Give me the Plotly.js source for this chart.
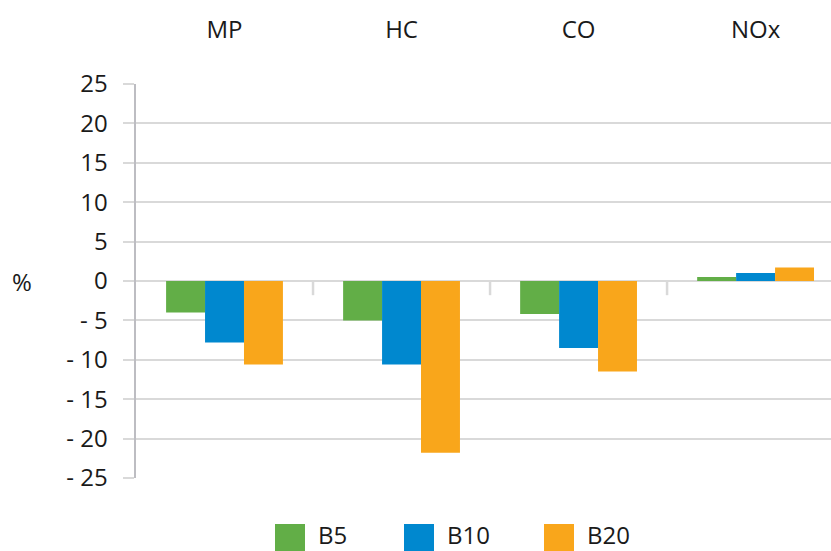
<!DOCTYPE html>
<html>
<head>
<meta charset="utf-8">
<script src="https://cdn.plot.ly/plotly-3.0.1.min.js"></script>
<style>html,body{margin:0;padding:0;background:#fff;overflow:hidden;}</style>
</head>
<body>
<div id="chart" style="width:831px;height:551px;"></div>
<script>
var categories = ["MP", "HC", "CO", "NOx"];
var seriesNames = ["B5", "B10", "B20"];
var b5 = [-4.0, -5.0, -4.2, 0.5];
var b10 = [-7.8, -10.6, -8.5, 1.0];
var b20 = [-10.6, -21.8, -11.5, 1.7];
var yTickVals = [25, 20, 15, 10, 5, 0, -5, -10, -15, -20, -25];
var yTickText = ["25", "20", "15", "10", "5", "0", "- 5", "- 10", "- 15", "- 20", "- 25"];
var colors = ["#62ae47", "#0088cf", "#f9a61b"];
var seriesValues = [b5, b10, b20];

var fontFam = "'Open Sans', 'Noto Sans', sans-serif";
var traces = seriesValues.map(function (vals, i) {
  return {
    type: "bar", x: categories, y: vals, name: seriesNames[i],
    marker: { color: colors[i], line: { width: 0 } },
    showlegend: false, hoverinfo: "x+y+name"
  };
});

var shapes = [];
for (var i = 1; i < categories.length; i++) {
  shapes.push({ type: "line", xref: "x", yref: "y", x0: i - 0.5, x1: i - 0.5, y0: 0, y1: -1.8,
    line: { color: "#d9d9d9", width: 2.5 } });
}
var annotations = [{
  text: "%", xref: "paper", yref: "y", x: -0.164, y: 0, xanchor: "center", yanchor: "middle",
  showarrow: false, font: { family: fontFam, size: 24, color: "#1a1a1a" }
}];
// custom legend
var legX = [275, 404, 544];
seriesNames.forEach(function (n, i) {
  var x0 = (legX[i] - 136) / 695, x1 = (legX[i] + 30 - 136) / 695;
  shapes.push({ type: "rect", xref: "paper", yref: "paper", x0: x0, x1: x1,
    y0: (478 - 551) / 394, y1: (478 - 524) / 394, fillcolor: colors[i], line: { width: 0 } });
  annotations.push({ text: n, xref: "paper", yref: "paper", x: (legX[i] + 41 - 136) / 695,
    y: (478 - 534) / 394, xanchor: "left", yanchor: "middle", showarrow: false,
    font: { family: fontFam, size: 24, color: "#1a1a1a" } });
});

var layout = {
  width: 831, height: 551,
  margin: { l: 136, r: 0, t: 84, b: 73, pad: 0 },
  paper_bgcolor: "#fff", plot_bgcolor: "#fff",
  barmode: "group", bargap: 0.34, bargroupgap: 0,
  font: { family: fontFam, size: 24, color: "#1a1a1a" },
  xaxis: {
    type: "category", side: "top", range: [-0.5, 3.426],
    showgrid: false, showline: false, zeroline: false, ticks: "",
    ticklabelstandoff: 40,
    tickfont: { family: fontFam, size: 24, color: "#1a1a1a" }
  },
  yaxis: {
    range: [-25, 25], tickvals: yTickVals, ticktext: yTickText,
    showgrid: true, gridcolor: "#d9d9d9", gridwidth: 2, zeroline: false,
    ticks: "outside", ticklen: 11, tickcolor: "#d9d9d9", tickwidth: 2,
    showline: true, linecolor: "#bdbdc2", linewidth: 2.5,
    ticklabelstandoff: 10,
    tickfont: { family: fontFam, size: 24, color: "#1a1a1a" }
  },
  shapes: shapes, annotations: annotations, showlegend: false
};
Plotly.newPlot("chart", traces, layout, { displayModeBar: false, staticPlot: true });
</script>
</body>
</html>
